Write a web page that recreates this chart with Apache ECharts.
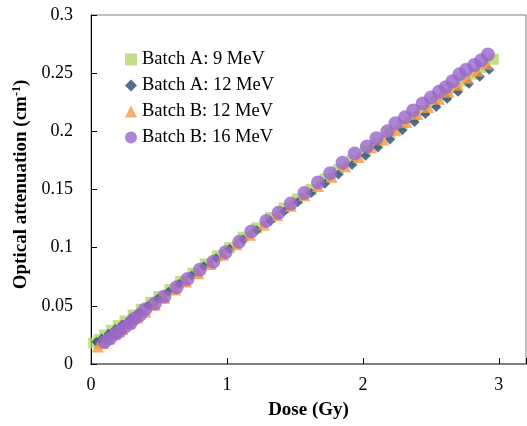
<!DOCTYPE html>
<html><head><meta charset="utf-8">
<script src="https://cdn.jsdelivr.net/npm/echarts@6/dist/echarts.min.js"></script>
<style>html,body{margin:0;padding:0;background:#fff}#c{width:527px;height:426px}</style>
</head><body><div id="c"></div>
<script>
var seriesNames = ['Batch A: 9 MeV', 'Batch A: 12 MeV', 'Batch B: 12 MeV', 'Batch B: 16 MeV'];
var xTicks = [0, 1, 2, 3];
var yTicks = [0, 0.05, 0.1, 0.15, 0.2, 0.25, 0.3];

var a9x = [0.02,0.06,0.10,0.15,0.20,0.25,0.31,0.37,0.44,0.50,0.58,0.66,0.75,0.84,0.93,1.02,1.12,1.22,1.32,1.42,1.52,1.62,1.72,1.82,1.92,2.02,2.11,2.20,2.29,2.37,2.45,2.53,2.61,2.68,2.75,2.82,2.89,2.96];
var a9y = [0.018,0.021,0.025,0.029,0.033,0.037,0.042,0.047,0.053,0.058,0.064,0.071,0.078,0.086,0.093,0.100,0.109,0.117,0.126,0.134,0.142,0.150,0.159,0.167,0.175,0.183,0.190,0.198,0.205,0.212,0.218,0.225,0.231,0.237,0.243,0.249,0.255,0.262];

var a12x = [0.04,0.08,0.13,0.18,0.23,0.29,0.35,0.42,0.49,0.57,0.65,0.74,0.83,0.92,1.02,1.12,1.22,1.32,1.42,1.52,1.62,1.72,1.82,1.92,2.02,2.11,2.20,2.29,2.38,2.46,2.54,2.62,2.70,2.78,2.86,2.93];
var a12y = [0.019,0.022,0.026,0.030,0.034,0.039,0.044,0.050,0.056,0.062,0.069,0.076,0.084,0.091,0.099,0.107,0.115,0.123,0.131,0.139,0.147,0.155,0.163,0.171,0.179,0.186,0.193,0.201,0.208,0.215,0.221,0.228,0.234,0.241,0.247,0.253];

var b12x = [0.05,0.09,0.13,0.18,0.23,0.28,0.34,0.40,0.47,0.54,0.62,0.70,0.79,0.88,0.97,1.07,1.17,1.27,1.37,1.47,1.57,1.67,1.77,1.87,1.97,2.06,2.15,2.24,2.32,2.40,2.48,2.56,2.63,2.70,2.77,2.84,2.91];
var b12y = [0.015,0.018,0.022,0.026,0.030,0.035,0.040,0.045,0.051,0.057,0.064,0.071,0.078,0.086,0.094,0.103,0.111,0.120,0.128,0.136,0.145,0.153,0.161,0.170,0.178,0.186,0.193,0.201,0.208,0.215,0.221,0.228,0.234,0.240,0.246,0.252,0.258];

var b16x = [0.10,0.14,0.18,0.21,0.25,0.29,0.32,0.36,0.40,0.47,0.54,0.63,0.71,0.80,0.90,0.99,1.09,1.18,1.29,1.38,1.47,1.57,1.67,1.76,1.85,1.94,2.03,2.10,2.18,2.24,2.31,2.37,2.44,2.50,2.56,2.61,2.66,2.71,2.76,2.82,2.87,2.92];
var b16y = [0.019,0.022,0.026,0.028,0.032,0.035,0.039,0.042,0.047,0.052,0.058,0.066,0.073,0.081,0.088,0.096,0.105,0.114,0.123,0.130,0.138,0.147,0.156,0.164,0.173,0.181,0.187,0.194,0.200,0.207,0.212,0.218,0.224,0.229,0.234,0.238,0.243,0.249,0.253,0.257,0.261,0.266];

function pairs(xs, ys){ return xs.map(function(x,i){ return [x, ys[i]]; }); }

var font = '"Liberation Serif", "Times New Roman", serif';
var chart = echarts.init(document.getElementById('c'), null, {renderer:'canvas'});
chart.setOption({
  animation: false,
  backgroundColor: '#fff',
  grid: {left: 91, right: 1, top: 15, bottom: 62, outerBoundsMode: 'none', containLabel: false,
         show: true, borderColor: '#808080', borderWidth: 1, backgroundColor: 'transparent'},
  legend: {
    orient: 'vertical', left: 120, top: 45, itemGap: 7, itemWidth: 12, itemHeight: 12,
    textStyle: {fontFamily: font, fontSize: 18.5, color: '#000'},
    data: [
      {name: seriesNames[0], icon: 'rect'},
      {name: seriesNames[1], icon: 'diamond'},
      {name: seriesNames[2], icon: 'triangle'},
      {name: seriesNames[3], icon: 'circle'}
    ]
  },
  xAxis: {
    type: 'value', min: 0, max: 3.2, interval: 1,
    name: 'Dose (Gy)', nameLocation: 'middle', nameGap: 37,
    nameTextStyle: {fontFamily: font, fontSize: 19, fontWeight: 'bold', color: '#000'},
    axisLine: {lineStyle: {color: '#808080', width: 2}},
    axisTick: {inside: true, length: 6, lineStyle: {color: '#000'}},
    splitLine: {show: false},
    axisLabel: {fontFamily: font, fontSize: 18, color: '#000', margin: 12,
      formatter: function(v){ return xTicks.indexOf(v) >= 0 ? String(v) : ''; }}
  },
  yAxis: {
    type: 'value', min: 0, max: 0.3, interval: 0.05,
    name: 'Optical attenuation (cm{sup|-1})', nameLocation: 'middle', nameGap: 58, nameRotate: 90,
    nameTextStyle: {fontFamily: font, fontSize: 19, fontWeight: 'bold', color: '#000', padding: [0, 0, 0, 10],
      rich: {sup: {fontFamily: font, fontSize: 12, fontWeight: 'bold', color: '#000', verticalAlign: 'top', padding: [0,0,8,0]}}},
    axisLine: {show: true, lineStyle: {color: '#000', width: 1}},
    axisTick: {show: true, inside: true, length: 6, lineStyle: {color: '#000'}},
    splitLine: {show: false},
    axisLabel: {fontFamily: font, fontSize: 18, color: '#000', margin: 18,
      formatter: function(v){ var t = yTicks.find(function(k){return Math.abs(k-v)<1e-9;}); return t === undefined ? '' : String(t); }}
  },
  series: [
    {name: seriesNames[0], type: 'scatter', symbol: 'rect', symbolSize: 11, data: pairs(a9x, a9y), itemStyle: {color: '#b3d66a'}},
    {name: seriesNames[1], type: 'scatter', symbol: 'diamond', symbolSize: 10, data: pairs(a12x, a12y), itemStyle: {color: '#274b7a'}},
    {name: seriesNames[2], type: 'scatter', symbol: 'triangle', symbolSize: 12, data: pairs(b12x, b12y), itemStyle: {color: '#f79646'}},
    {name: seriesNames[3], type: 'scatter', symbol: 'circle', symbolSize: 14, data: pairs(b16x, b16y), itemStyle: {color: '#9966cc'}}
  ]
});
</script></body></html>
